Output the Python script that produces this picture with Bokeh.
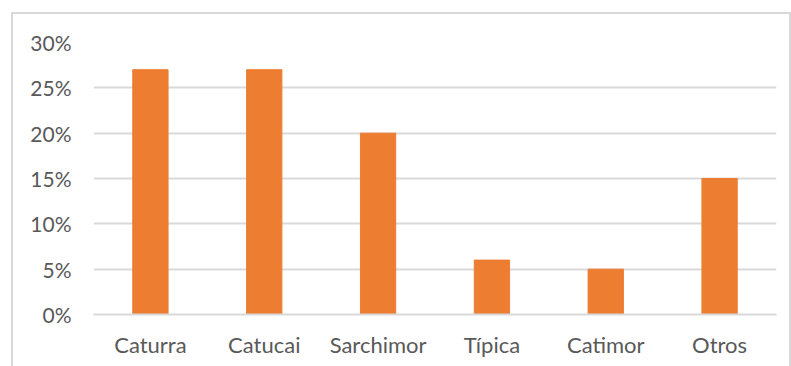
from bokeh.plotting import figure
from bokeh.models import Range1d, NumeralTickFormatter, FixedTicker, InlineStyleSheet
from bokeh.embed import file_html
from bokeh.resources import INLINE

categories = ["Caturra", "Catucai", "Sarchimor", "Típica", "Catimor", "Otros"]
shares = [0.27, 0.27, 0.20, 0.06, 0.05, 0.15]
y_ticks = [0.0, 0.05, 0.10, 0.15, 0.20, 0.25, 0.30]

p = figure(x_range=categories, y_range=Range1d(0, 0.30),
           width=791, height=366, output_backend="svg", toolbar_location=None,
           min_border_left=93, min_border_right=15, min_border_top=42, min_border_bottom=52)

p.vbar(x=categories, top=shares, width=0.31, color="#ED7D31")

p.outline_line_color = None
p.background_fill_color = "white"
p.border_fill_color = "white"

p.xgrid.grid_line_color = None
p.ygrid.grid_line_color = "#d9d9d9"
p.ygrid.grid_line_width = 1.8

p.yaxis.ticker = FixedTicker(ticks=y_ticks)
p.yaxis.formatter = NumeralTickFormatter(format="0%")
for ax in (p.xaxis[0], p.yaxis[0]):
    ax.major_tick_line_color = None
    ax.minor_tick_line_color = None
    ax.major_tick_out = 0
    ax.major_tick_in = 0
    ax.minor_tick_out = 0
    ax.major_label_text_font = "Lato"
    ax.major_label_text_color = "#595959"
p.xaxis.major_label_text_font_size = "22px"
p.yaxis.major_label_text_font_size = "21px"
p.yaxis.axis_line_color = None
p.yaxis.major_label_standoff = 22
p.xaxis.axis_line_color = "#d9d9d9"
p.xaxis.axis_line_width = 1.8
p.xaxis.major_label_standoff = 16

p.stylesheets = [InlineStyleSheet(css="""
:host { position: relative; }
:host::after {
  content: "";
  position: absolute;
  left: 11px; top: 12px; right: 0px; bottom: -10px;
  border: 2px solid #d9d9d9;
  pointer-events: none;
}
""")]

open("out.html", "w").write(file_html(p, INLINE))
